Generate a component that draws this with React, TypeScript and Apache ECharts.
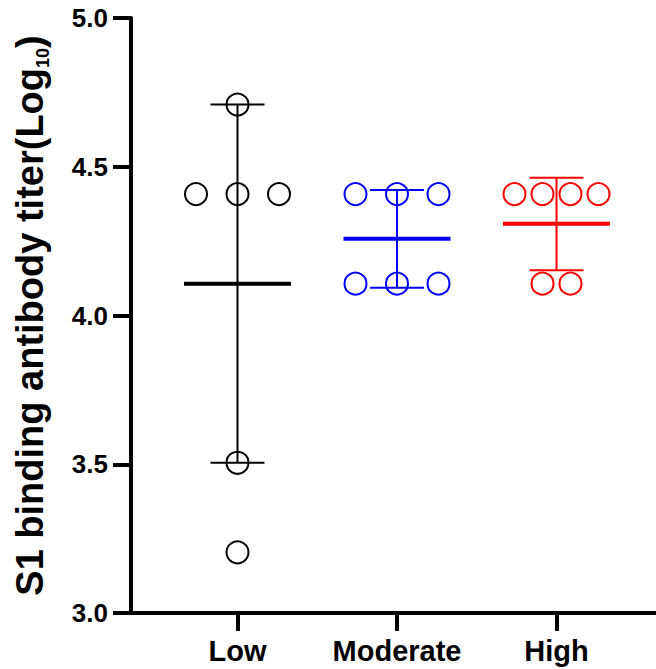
import React, { useEffect, useRef } from "react";
import * as echarts from "echarts";

// ---- data (log10 titers) ----
const categories = ["Low", "Moderate", "High"];
const lowTiters = [4.709, 4.408, 4.408, 4.408, 3.505, 3.204];
const moderateTiters = [4.408, 4.408, 4.408, 4.107, 4.107, 4.107];
const highTiters = [4.408, 4.408, 4.408, 4.408, 4.107, 4.107];
const groupMeans = [4.107, 4.258, 4.308];
const sdLower = [3.505, 4.093, 4.152];
const sdUpper = [4.709, 4.422, 4.463];
const yTicks = [3.0, 3.5, 4.0, 4.5, 5.0];

const groupValues = [lowTiters, moderateTiters, highTiters];
const groupColors = ["#000000", "#0000ff", "#ff0000"];
const pointSpacing = [41.5, 41.5, 28];
const FONT = "'Liberation Sans', Arial, Helvetica, sans-serif";

function buildScatter(g: number) {
  const vals = groupValues[g];
  const counts: Record<string, number> = {};
  vals.forEach((v) => (counts[v] = (counts[v] || 0) + 1));
  const seen: Record<string, number> = {};
  return vals.map((v) => {
    const n = counts[v];
    const k = seen[v] || 0;
    seen[v] = k + 1;
    const off = (k - (n - 1) / 2) * pointSpacing[g];
    return { value: [g + 1, v], symbolOffset: [off, 0] };
  });
}

export default function App() {
  const ref = useRef<HTMLDivElement>(null);
  useEffect(() => {
    if (!ref.current) return;
    const chart = echarts.init(ref.current, undefined, { renderer: "svg" });
    const axisLineStyle = { color: "#000", width: 4, cap: "round" as const };
    const option: any = {
      animation: false,
      backgroundColor: "#fff",
      grid: { left: 131, right: 0, top: 18, bottom: 56, containLabel: false },
      xAxis: {
        type: "value",
        min: 0.3323,
        max: 3.6238,
        splitLine: { show: false },
        axisLine: { show: true, lineStyle: axisLineStyle },
        axisTick: {
          show: true,
          customValues: [1, 2, 3],
          length: 18,
          lineStyle: { color: "#000", width: 4 },
        },
        axisLabel: {
          customValues: [1, 2, 3],
          formatter: (v: number) => categories[Math.round(v) - 1] ?? "",
          fontSize: 29,
          fontWeight: "bold",
          fontFamily: FONT,
          color: "#000",
          margin: 23,
        },
      },
      yAxis: {
        type: "value",
        min: yTicks[0],
        max: yTicks[yTicks.length - 1],
        interval: 0.5,
        splitLine: { show: false },
        axisLine: { show: true, lineStyle: axisLineStyle },
        axisTick: { show: true, length: 18, lineStyle: { color: "#000", width: 4 } },
        axisLabel: {
          formatter: (v: number) => v.toFixed(1),
          fontSize: 26,
          fontWeight: "bold",
          fontFamily: FONT,
          color: "#000",
          margin: 23,
        },
        name: "{a|S1 binding antibody titer(Log}{b|10}{a|)}",
        nameLocation: "middle",
        nameGap: 79,
        nameTextStyle: {
          rich: {
            a: { fontSize: 38, fontWeight: "bold", fontFamily: FONT, color: "#000", lineHeight: 44 },
            b: {
              fontSize: 18,
              fontWeight: "bold",
              fontFamily: FONT,
              color: "#000",
              lineHeight: 16,
              verticalAlign: "bottom",
            },
          },
        },
      },
      series: [
        {
          type: "custom",
          silent: true,
          clip: false,
          data: categories.map((_, i) => [i + 1, groupMeans[i], sdLower[i], sdUpper[i]]),
          encode: { x: 0, y: [1, 2, 3] },
          renderItem: (params: any, api: any) => {
            const x = api.value(0);
            const pm = api.coord([x, api.value(1)]);
            const pl = api.coord([x, api.value(2)]);
            const ph = api.coord([x, api.value(3)]);
            const color = groupColors[params.dataIndex];
            const thin = { stroke: color, lineWidth: 2 };
            return {
              type: "group",
              children: [
                { type: "line", shape: { x1: pl[0], y1: pl[1], x2: ph[0], y2: ph[1] }, style: thin },
                { type: "line", shape: { x1: pl[0] - 27, y1: pl[1], x2: pl[0] + 27, y2: pl[1] }, style: thin },
                { type: "line", shape: { x1: ph[0] - 27, y1: ph[1], x2: ph[0] + 27, y2: ph[1] }, style: thin },
                {
                  type: "line",
                  shape: { x1: pm[0] - 53.5, y1: pm[1], x2: pm[0] + 53.5, y2: pm[1] },
                  style: { stroke: color, lineWidth: 4 },
                },
              ],
            };
          },
        },
        ...categories.map((_, g) => ({
          type: "scatter",
          silent: true,
          symbol: "circle",
          symbolSize: 22,
          itemStyle: { color: "rgba(0,0,0,0)", borderColor: groupColors[g], borderWidth: 2, opacity: 1 },
          data: buildScatter(g),
          z: 3,
        })),
      ],
    };
    chart.setOption(option);
    return () => chart.dispose();
  }, []);
  return (
    <div
      ref={ref}
      style={{ position: "absolute", left: 0, top: 0, width: 656, height: 669, background: "#fff" }}
    />
  );
}
